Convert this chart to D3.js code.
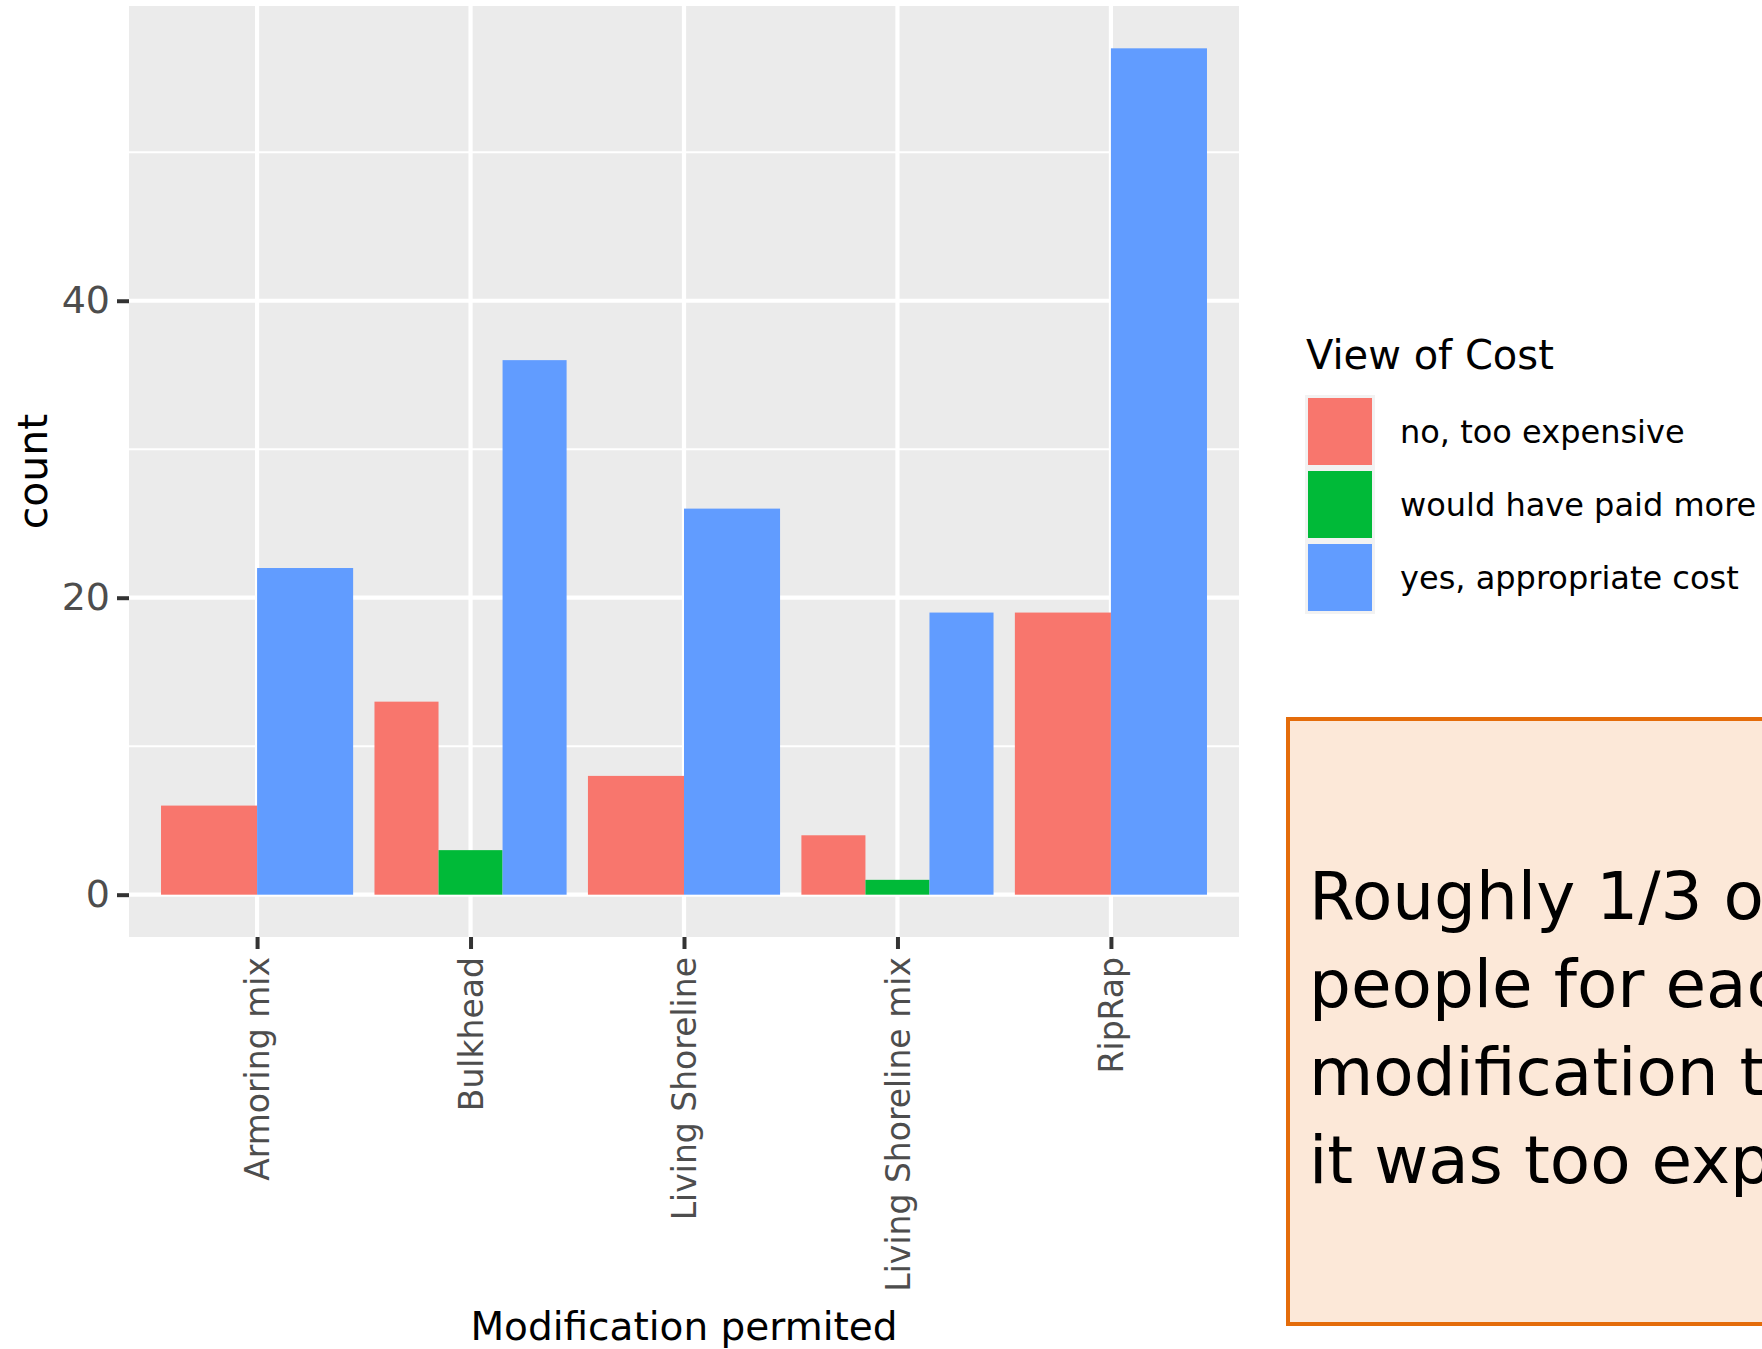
<!DOCTYPE html>
<html><head><meta charset="utf-8">
<script src="https://cdn.jsdelivr.net/npm/d3@7"></script>
<style>html,body{margin:0;padding:0;background:#fff;overflow:hidden}</style>
</head><body>
<svg id="c" width="1762" height="1349"></svg>
<script>
const categories = ["Armoring mix","Bulkhead","Living Shoreline","Living Shoreline mix","RipRap"];
const tooExpensive = [6,13,8,4,19];
const paidMore = [0,3,0,1,0];
const appropriate = [22,36,26,19,57];
const seriesNames = ["no, too expensive","would have paid more","yes, appropriate cost"];
const seriesColors = ["#F8766D","#00BA38","#619CFF"];
const yTicks = [0,20,40];
const yMinor = [10,30,50];
const noteLines = ["Roughly 1/3 of","people for each","modification thought","it was too expensive"];

const svg = d3.select("#c");
const P = {l:129, r:1239, t:6, b:937};
const ymax = d3.max(appropriate.concat(tooExpensive, paidMore));
const ext = ymax*0.05;
const y = d3.scaleLinear().domain([-ext, ymax+ext]).range([P.b, P.t]);
const x = d3.scalePoint().domain(categories).range([P.l, P.r]).padding(0.6);
const step = x.step();

svg.append("rect").attr("x",P.l).attr("y",P.t).attr("width",P.r-P.l).attr("height",P.b-P.t).attr("fill","#EBEBEB");
const g = svg.append("g");
g.selectAll(".mn").data(yMinor).join("line").attr("x1",P.l).attr("x2",P.r)
 .attr("y1",d=>y(d)).attr("y2",d=>y(d)).attr("stroke","#fff").attr("stroke-width",2);
g.selectAll(".mj").data(yTicks).join("line").attr("x1",P.l).attr("x2",P.r)
 .attr("y1",d=>y(d)).attr("y2",d=>y(d)).attr("stroke","#fff").attr("stroke-width",4.2);
g.selectAll(".vx").data(categories).join("line").attr("y1",P.t).attr("y2",P.b)
 .attr("x1",d=>x(d)).attr("x2",d=>x(d)).attr("stroke","#fff").attr("stroke-width",4.2);

// bars with ggplot-style dodge
const series = [tooExpensive, paidMore, appropriate];
const bars = [];
categories.forEach((c,i)=>{
  const present = series.map((s,k)=>({k, v:s[i]})).filter(d=>d.v>0);
  const w = 0.9*step/present.length;
  const x0 = x(c) - 0.45*step;
  present.forEach((d,j)=>bars.push({c, k:d.k, v:d.v, x:x0+j*w, w}));
});
g.selectAll(".bar").data(bars).join("rect")
 .attr("x",d=>d.x).attr("width",d=>d.w)
 .attr("y",d=>y(d.v)).attr("height",d=>y(0)-y(d.v))
 .attr("fill",d=>seriesColors[d.k]);

// y axis
const yAx = svg.append("g").attr("transform",`translate(${P.l},0)`)
 .call(d3.axisLeft(y).tickValues(yTicks).tickSize(12).tickPadding(7));
yAx.select(".domain").remove();
yAx.selectAll(".tick line").attr("stroke","#333").attr("stroke-width",4);
yAx.selectAll(".tick text").attr("fill","#4D4D4D").style("font-family","DejaVu Sans").style("font-size","38px");

// x axis
const xAx = svg.append("g").attr("transform",`translate(0,${P.b})`)
 .call(d3.axisBottom(x).tickSize(12).tickPadding(8));
xAx.select(".domain").remove();
xAx.selectAll(".tick line").attr("stroke","#333").attr("stroke-width",4);
xAx.selectAll(".tick text").attr("fill","#4D4D4D").style("font-family","DejaVu Sans").style("font-size","33px")
 .attr("transform","rotate(-90)").attr("text-anchor","end").attr("x",-20).attr("y",0).attr("dy","0.36em");

// axis titles
svg.append("text").attr("x",(P.l+P.r)/2).attr("y",1340).attr("text-anchor","middle")
 .style("font-family","DejaVu Sans").style("font-size","39px").attr("fill","#000").text("Modification permited");
svg.append("text").attr("transform",`translate(47,${(P.t+P.b)/2}) rotate(-90)`).attr("text-anchor","middle")
 .style("font-family","DejaVu Sans").style("font-size","41px").attr("fill","#000").text("count");

// legend
const L = svg.append("g");
L.append("text").attr("x",1306).attr("y",369).style("font-family","DejaVu Sans").style("font-size","40px").attr("fill","#000").text("View of Cost");
const ls = d3.scaleBand().domain(seriesNames).range([395,614]);
seriesNames.forEach((n,i)=>{
  const y0 = ls(n);
  L.append("rect").attr("x",1305).attr("y",y0).attr("width",70).attr("height",ls.bandwidth()).attr("fill","#F2F2F2");
  L.append("rect").attr("x",1308).attr("y",y0+3).attr("width",64).attr("height",ls.bandwidth()-6).attr("fill",seriesColors[i]);
  L.append("text").attr("x",1400).attr("y",y0+ls.bandwidth()/2).attr("dy","0.36em")
   .style("font-family","DejaVu Sans").style("font-size","32px").attr("fill","#000").text(n);
});

// annotation box
svg.append("rect").attr("x",1288).attr("y",719).attr("width",600).attr("height",605)
 .attr("fill","#FCE8D8").attr("stroke","#E46C0A").attr("stroke-width",4);
const nt = svg.append("text").style("font-family","DejaVu Sans").style("font-size","66px").attr("fill","#000");
noteLines.forEach((t,i)=>nt.append("tspan").attr("x",1309).attr("y",919+i*88).text(t));
</script>
</body></html>
